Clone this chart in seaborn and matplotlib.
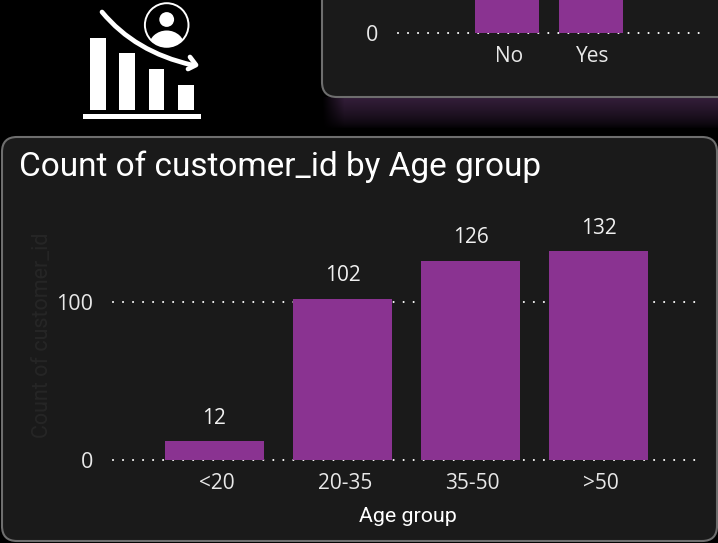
# -*- coding: utf-8 -*-
import numpy as np
import pandas as pd
import seaborn as sns
import matplotlib.pyplot as plt
from matplotlib.patches import FancyBboxPatch, Rectangle, Circle, Ellipse, PathPatch
from matplotlib.path import Path
from matplotlib.transforms import ScaledTranslation

# Datos
age_groups = ['<20', '20-35', '35-50', '>50']
age_counts = [12, 102, 126, 132]

# El panel de arriba esta cortado, estos dos valores son estimados
top_categories = ['No', 'Yes']
top_counts = [180, 192]

W, H = 718, 543
BAR = '#8a3391'
PANEL = '#1a1a1a'
BORDER = '#6e6e6e'

sns.set_theme(style='dark')
plt.rcParams['font.family'] = ['Open Sans', 'DejaVu Sans']

fig = plt.figure(figsize=(W / 100, H / 100), dpi=100, facecolor='black')


# Ejes a partir de pixeles de la imagen
def px_axes(x0, y0, x1, y1, **kw):
    return fig.add_axes([x0 / W, 1 - y1 / H, (x1 - x0) / W, (y1 - y0) / H], **kw)


# Fondo en coordenadas de pixel
bg = px_axes(0, 0, W, H, zorder=0)
bg.set_xlim(0, W)
bg.set_ylim(H, 0)
bg.axis('off')

# Brillo morado debajo del panel de arriba
fade_y = np.clip((128 - np.arange(97, 129)) / 31, 0, 1) ** 0.7
fade_x = np.clip((np.arange(322, W) - 322) / 22, 0, 1)
glow = np.outer(fade_y, fade_x)
rgba = np.zeros(glow.shape + (4,))
rgba[..., 0] = 0x34 / 255
rgba[..., 1] = 0x1e / 255
rgba[..., 2] = 0x3a / 255
rgba[..., 3] = glow
bg.imshow(rgba, extent=(322, W, 129, 97), aspect='auto', zorder=1)
bg.set_xlim(0, W)
bg.set_ylim(H, 0)

# Paneles
for x, y, w, h in [(322, -40, 440, 137), (2, 137, 715, 404)]:
    bg.add_patch(FancyBboxPatch((x, y), w, h, boxstyle='round,pad=0,rounding_size=15',
                                fc=PANEL, ec=BORDER, lw=1.5, zorder=2))

# Icono
for x0, x1, y0 in [(90, 106, 38), (119, 135, 53), (149, 164, 69), (178, 194, 85)]:
    bg.add_patch(Rectangle((x0, y0), x1 - x0, 110 - y0, fc='white', ec='none', zorder=3))
bg.add_patch(Rectangle((83, 114), 118, 5, fc='white', ec='none', zorder=3))
bg.add_patch(Circle((166.7, 25), 21.8, fc='none', ec='white', lw=1.4, zorder=3))
bg.add_patch(Circle((166.7, 19.5), 7.4, fc='white', ec='none', zorder=3))
body = Ellipse((166.7, 47), 36, 33, fc='white', ec='none', zorder=3)
bg.add_patch(body)
body.set_clip_path(Circle((166.7, 25), 22, transform=bg.transData))
bg.add_patch(PathPatch(Path([(102, 12), (135, 52), (192, 65)],
                            [Path.MOVETO, Path.CURVE3, Path.CURVE3]),
                       fc='none', ec='white', lw=3.4, capstyle='round', zorder=3))
bg.add_patch(PathPatch(Path([(190, 57), (196, 65), (188, 69)]),
                       fc='none', ec='white', lw=3.4, capstyle='round',
                       joinstyle='round', zorder=3))

# Titulo
bg.text(19, 167, 'Count of customer_id by Age group', color='white', fontsize=24,
        family='Roboto', va='center', ha='left', zorder=4)

# Grafico de abajo
df = pd.DataFrame({'age': age_groups, 'count': age_counts})
ax = px_axes(113, 210, 697, 460, zorder=2)
sns.barplot(data=df, x='age', y='count', color=BAR, saturation=1, width=0.773,
            linewidth=0, ax=ax)
ax.set_xlim((113 - 214.5) / 128, (697 - 214.5) / 128)
ax.set_ylim(0, 250 / 1.583)
ax.set_yticks([0, 100])
ax.bar_label(ax.containers[0], padding=9, color='#f0f0f0', fontsize=15)
ax.set_xlabel('Age group', color='white', fontsize=15.4, family='Roboto', labelpad=9, x=0.505)
ax.set_ylabel('Count of customer_id', color='#262626', fontsize=15.5, family='Roboto', labelpad=2)

# Grafico de arriba
top = pd.DataFrame({'cat': top_categories, 'count': top_counts})
ax2 = px_axes(398, 0, 700, 33, zorder=2)
sns.barplot(data=top, x='cat', y='count', color=BAR, saturation=1, width=0.762,
            linewidth=0, ax=ax2)
ax2.set_xlim((398 - 507) / 84, (700 - 507) / 84)
ax2.set_ylim(0, 40)
ax2.set_yticks([0])
ax2.set_xlabel('')
ax2.set_ylabel('')

# Estilo comun
for a in [ax, ax2]:
    a.set_facecolor('none')
    a.set_axisbelow(True)
    for s in a.spines.values():
        s.set_visible(False)
    a.grid(False)
    a.grid(axis='y', color='white', linewidth=1.5, linestyle=(0, (0.01, 4.8)))
    for gl in a.get_ygridlines():
        gl.set_clip_on(False)
        gl.set_dash_capstyle('round')
    a.tick_params(axis='x', length=0, colors='#e8e8e8', labelsize=15, pad=9.5)
    a.tick_params(axis='y', length=0, colors='#e8e8e8', labelsize=15.5, pad=14.5)
    # las etiquetas del eje x estan un poco a la derecha de la barra
    for lab in a.get_xticklabels():
        lab.set_transform(lab.get_transform() + ScaledTranslation(2.2 / 100, 0, fig.dpi_scale_trans))

fig.savefig('out.png', dpi=100, facecolor=fig.get_facecolor())
